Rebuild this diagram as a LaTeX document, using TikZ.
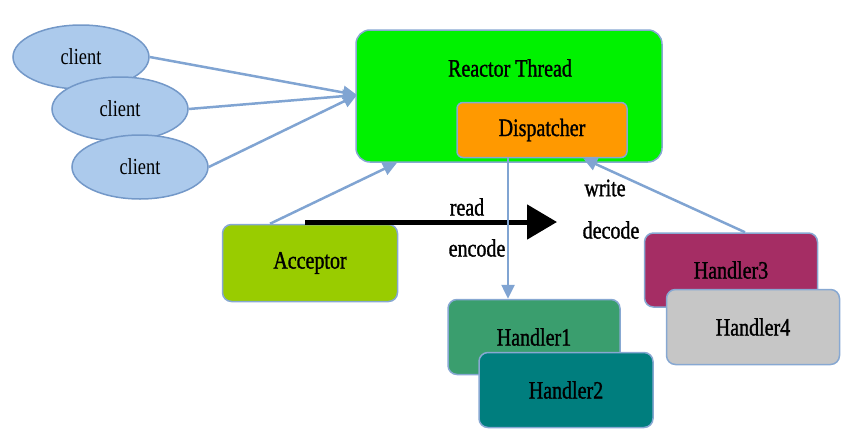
\documentclass[tikz,border=0pt]{standalone}
\usepackage{fontspec}
\setmainfont[FakeStretch=0.8]{Liberation Serif}
\newfontfamily\boldlbl[FakeStretch=0.8,FakeBold=1.2]{Liberation Serif}
\usetikzlibrary{shapes.geometric,arrows.meta}
\definecolor{rgreen}{RGB}{0,242,0}
\definecolor{rborder}{RGB}{135,168,210}
\definecolor{rorange}{RGB}{255,153,0}
\definecolor{raccept}{RGB}{153,204,0}
\definecolor{rhone}{RGB}{58,158,110}
\definecolor{rhtwo}{RGB}{0,126,126}
\definecolor{rhthree}{RGB}{165,45,100}
\definecolor{rhfour}{RGB}{198,198,198}
\definecolor{rclient}{RGB}{172,202,236}
\definecolor{rclientb}{RGB}{115,152,200}
\definecolor{rarrow}{RGB}{128,164,210}
\begin{document}
\begin{tikzpicture}[x=1pt,y=-1pt,
  lbl/.style={font=\boldlbl\fontsize{25}{28}\selectfont, inner sep=0pt},
  clientnode/.style={ellipse, draw=rclientb, line width=1.5pt, fill=rclient,
    minimum width=136pt, minimum height=64pt, inner sep=0pt,
    font=\fontsize{23}{26}\selectfont},
  boxnode/.style={rectangle, rounded corners=9pt, draw=rborder, line width=1.5pt,
    inner sep=0pt, font=\boldlbl\fontsize{25}{28}\selectfont},
  bluearrow/.style={draw=rarrow, line width=2.5pt, -{Triangle[length=14pt,width=13pt]}},
  bigarrow/.style={draw=black, line width=5pt, -{Triangle[length=30pt,width=34pt]}}
]
\useasboundingbox (0,0) rectangle (842,439);

% reactor thread box
\node[boxnode, fill=rgreen, rounded corners=14pt, minimum width=306pt, minimum height=132pt] (reactor) at (509,96) {};
\node[lbl] (rtlabel) at (510,68) {Reactor Thread};
\node[boxnode, fill=rorange, rounded corners=6pt, minimum width=170pt, minimum height=55pt] (disp) at (542,130) {Dispatcher};

% clients
\node[clientnode] (c1) at (81,57) {client};
\node[clientnode] (c2) at (120,109) {client};
\node[clientnode] (c3) at (140,167) {client};
\coordinate (cin) at (357,95);
\draw[bluearrow] (c1.east) -- (cin);
\draw[bluearrow] (c2.east) -- (cin);
\draw[bluearrow] (c3.east) -- (cin);

% acceptor
\node[boxnode, fill=raccept, minimum width=175pt, minimum height=77pt] (acc) at (310,263) {Acceptor};
\draw[bluearrow] ([xshift=-40pt]acc.north) -- ([xshift=-112pt]reactor.south);

% handlers
\node[boxnode, fill=rhone, minimum width=172pt, minimum height=75pt] (h1) at (534,337) {Handler1};
\node[boxnode, fill=rhtwo, minimum width=174pt, minimum height=75pt] (h2) at (566,390) {Handler2};
\node[boxnode, fill=rhthree, minimum width=173pt, minimum height=74pt] (h3) at (731,270) {Handler3};
\node[boxnode, fill=rhfour, minimum width=173pt, minimum height=75pt] (h4) at (753,327) {Handler4};

% big black arrow
\coordinate (bs) at (305,222);
\coordinate (be) at (557,222);
\draw[bigarrow] (bs) -- (be);

% dispatcher -> handler1, handler3 -> dispatcher
\draw[bluearrow] ([xshift=-34pt]disp.south) -- ([xshift=-34pt]disp.south |- h1.north);
\draw[bluearrow] ([xshift=14pt]h3.north) -- ([xshift=41pt]disp.south);

% labels
\node[lbl] (tread) at (467,207) {read};
\node[lbl] (tencode) at (477,248) {encode};
\node[lbl] (twrite) at (605,188) {write};
\node[lbl] (tdecode) at (611,230) {decode};
\end{tikzpicture}
\end{document}
